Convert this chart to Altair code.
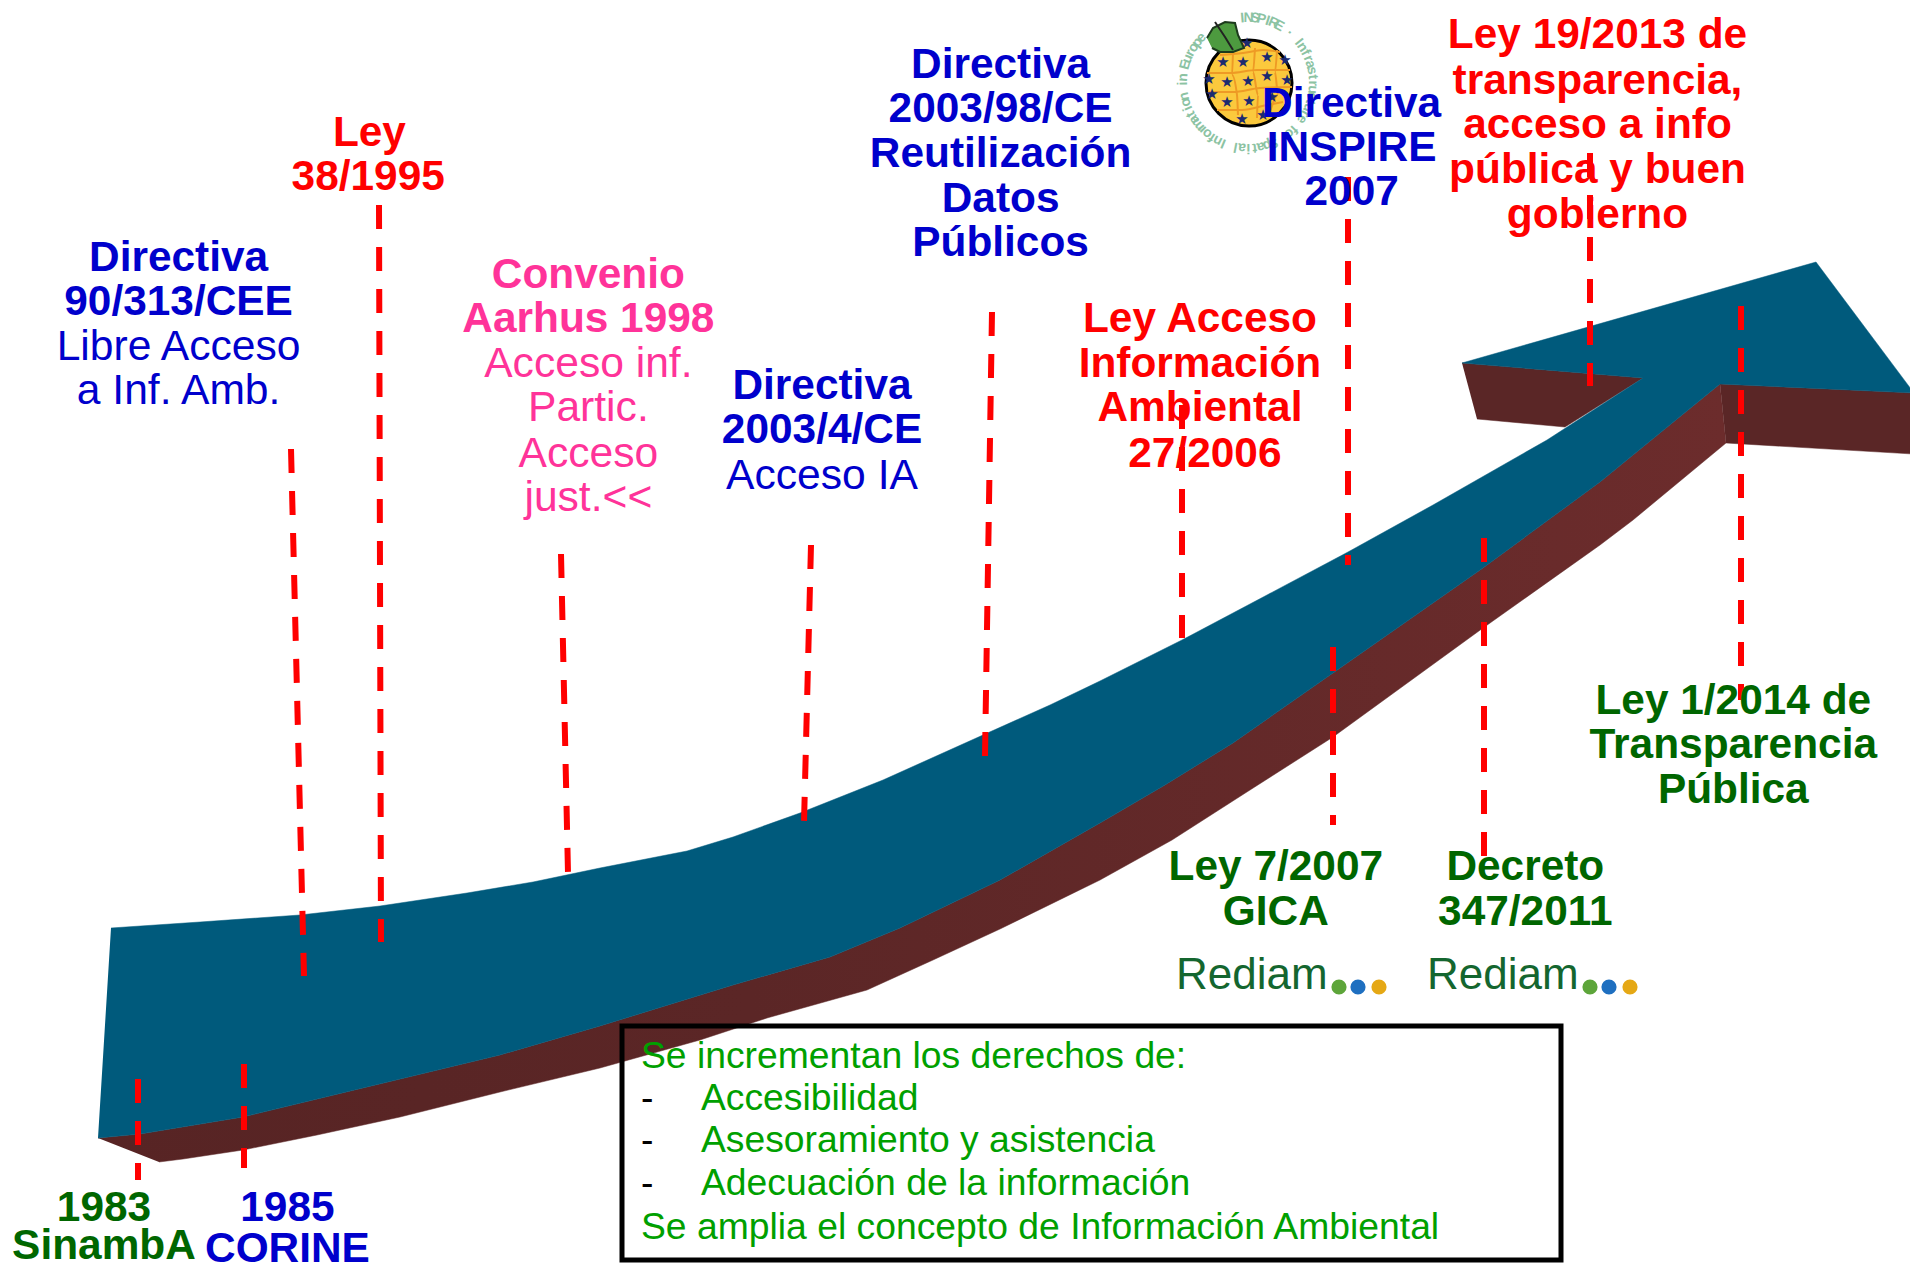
import math
import altair as alt
import pandas as pd

S = 1.2232
W, H = 1902, 1255
xs = alt.Scale(domain=[8, 8 + W], range=[0, W])
ys = alt.Scale(domain=[8, 8 + H], range=[0, H])
X = lambda f="x": alt.X(f"{f}:Q", scale=xs, axis=None)
Y = lambda f="y": alt.Y(f"{f}:Q", scale=ys, axis=None)

# ---- arrow outline (full-size pixels)
blue_top = [(111,928),(200,922),(300,915),(380,906),(467,893),(533,882),(600,868),(687,851),(733,837),(800,813),
            (883,780),(983,735),(1050,705),(1100,681),(1182,640),(1267,595),(1348,552),(1433,505),(1547,440),
            (1643,378),(1462,363),(1816,262),(1914,393),(1720,384)]
blue_low = [(1600,482),(1483,568),(1333,673),(1233,743),(1165,785),(1100,823),(1000,880),(900,928),(830,957),(733,985),
            (600,1026),(500,1055),(367,1087),(243,1117),(140,1134),(98,1138)]
maroon_low = [(1726,443),(1633,520),(1600,545),(1483,628),(1333,737),(1250,790),(1172,840),(1100,880),(1000,929),
              (933,960),(867,990),(767,1018),(700,1040),(600,1068),(500,1092),(400,1117),(317,1135),(243,1150),
              (183,1159),(159,1162)]
head_left = [(1462,363),(1643,378),(1565,427),(1477,419)]
head_right = [(1720,384),(1914,393),(1913,454),(1726,443)]
leaf = [(1207,38),(1213,28),(1225,22),(1235,23),(1238,35),(1244,48),(1233,52),(1220,52),(1212,48)]
leaf_stem = [(1215,22),(1225,37),(1233,50)]

def poly(points, colour, edge=None, width=0.5):
    df = pd.DataFrame(points, columns=["x", "y"])
    df["i"] = range(len(df))
    return alt.Chart(df).mark_line(fill=colour, stroke=edge or colour, strokeWidth=width).encode(
        x=X(), y=Y(), order="i:Q")

maroon_fill = alt.Gradient(gradient="linear", x1=0, y1=0, x2=1, y2=0,
                           stops=[alt.GradientStop(color="#572424", offset=0),
                                  alt.GradientStop(color="#5b2626", offset=0.4),
                                  alt.GradientStop(color="#6c2c2c", offset=1)])

# ---- dashed rules
rule_x1 = [291,379,561,811,992,1182,1348,1590,1741,1484,1333,244,138]
rule_y1 = [449,205,554,545,312,405,177,153,306,538,647,1064,1079]
rule_x2 = [304,381,568,804,985,1182,1348,1590,1741,1484,1333,244,138]
rule_y2 = [976,942,873,823,756,638,565,386,700,856,825,1168,1180]
rules = pd.DataFrame({"x": rule_x1, "y": rule_y1, "x2": rule_x2, "y2": rule_y2})

# ---- labels, in reading order
RED, BLUE, PINK, GREEN = "#ff0000", "#0000cc", "#ff3399", "#006600"
bold_text = ["Directiva","90/313/CEE","Ley","38/1995","Convenio","Aarhus 1998","Directiva","2003/4/CE",
             "Directiva","2003/98/CE","Reutilización","Datos","Públicos",
             "Ley Acceso","Información","Ambiental","27/2006",
             "Directiva","INSPIRE","2007",
             "Ley 19/2013 de","transparencia,","acceso a info","pública y buen","gobierno",
             "Ley 1/2014 de","Transparencia","Pública",
             "Ley 7/2007","GICA","Decreto","347/2011",
             "1983","SinambA","1985","CORINE"]
bold_x = [146,146,302,301,481,481,672,672,818,818,818,818,818,981,981,981,985,1105,1105,1105,
          1306,1306,1306,1306,1306,1417,1417,1417,1043,1043,1247,1247,85,85,235,235]
bold_y = [210,246,108,144,224,260,315,351,52,88,125,162,198,260,297,333,370,84,120,156,
          28,65,101,138,175,572,608,645,708,745,708,745,987,1018,987,1020]
bold_c = [BLUE]*2+[RED]*2+[PINK]*2+[BLUE]*2+[BLUE]*5+[RED]*4+[BLUE]*3+[RED]*5+[GREEN]*3+[GREEN]*4+[GREEN]*2+[BLUE]*2
reg_text = ["Libre Acceso","a Inf. Amb.","Acceso inf.","Partic.","Acceso","just.<<","Acceso IA"]
reg_x = [146,146,481,481,481,481,672]
reg_y = [283,319,297,333,370,406,388]
reg_c = [BLUE]*2+[PINK]*4+[BLUE]

box_text = ["Se incrementan los derechos de:","-","Accesibilidad","-","Asesoramiento y asistencia","-",
            "Adecuación de la información","Se amplia el concepto de Información Ambiental"]
box_x = [524,524,573,524,573,524,573,524]
box_y = [863,898,898,932,932,967,967,1003]
box_c = ["#00a000","#000000","#00a000","#000000","#00a000","#000000","#00a000","#00a000"]

def texts(t, x, y, c, size, bold=False, align="center", font="Liberation Sans", scale=S, nudge=1.0):
    df = pd.DataFrame({"t": t, "x": [v*scale for v in x], "y": [v*scale + nudge for v in y], "c": c})
    return alt.Chart(df).mark_text(font=font, fontSize=size, fontWeight="bold" if bold else "normal",
                                   align=align, baseline="middle").encode(
        x=X(), y=Y(), text="t:N", color=alt.Color("c:N", scale=None))

bold_layer = texts(bold_text, bold_x, bold_y, bold_c, 42.4, True)
reg_layer = texts(reg_text, reg_x, reg_y, reg_c, 42.6)
box_layer = texts(box_text, box_x, box_y, box_c, 37.3, align="left")

box = alt.Chart(pd.DataFrame({"x": [622], "x2": [1561], "y": [1026], "y2": [1260]})).mark_rect(
    fill="white", fillOpacity=0, stroke="black", strokeWidth=5).encode(x=X(), x2="x2:Q", y=Y(), y2="y2:Q")

# ---- Rediam logos
rediam = texts(["Rediam","Rediam"], [1176,1427], [976,976], ["#14662f"]*2, 44, align="left", scale=1, nudge=0)
dots = pd.DataFrame({"x":[1339,1358,1379,1590,1609,1630],"y":[987]*6,
                     "c":["#5da53a","#1e6fc0","#e5a815"]*2})
dot_layer = alt.Chart(dots).mark_point(filled=True, opacity=1, size=230).encode(
    x=X(), y=Y(), color=alt.Color("c:N", scale=None))

# ---- INSPIRE globe
globe = alt.Chart(pd.DataFrame({"x":[1249],"y":[83]})).mark_point(
    filled=True, fill="#fbc93d", stroke="black", strokeWidth=3, opacity=1, size=7396).encode(x=X(), y=Y())
grid_lines = {
    "h1": [(1220,55),(1243,53),(1263,50),(1280,52)],
    "h2": [(1207,73),(1230,73),(1257,70),(1290,70)],
    "h3": [(1208,92),(1233,92),(1260,88),(1292,87)],
    "h4": [(1217,110),(1242,110),(1267,105),(1283,102)],
    "v1": [(1233,52),(1232,75),(1237,95),(1238,115)],
    "v2": [(1255,48),(1253,72),(1258,95),(1257,118)],
    "v3": [(1277,50),(1275,72),(1278,95),(1270,112)],
}
g_df = pd.concat([pd.DataFrame(v, columns=["x","y"]).assign(k=k, i=range(len(v))) for k, v in grid_lines.items()])
grid = alt.Chart(g_df).mark_line(color="#ee9a25", strokeWidth=2, interpolate="monotone").encode(
    x=X(), y=Y(), detail="k:N", order="i:Q")
star_x = [1247,1223,1243,1267,1285,1227,1248,1267,1287,1209,1227,1249,1272,1212,1242,1263]
star_y = [43,62,62,57,60,82,81,76,80,79,102,101,97,94,119,115]
stars = texts(["★"]*len(star_x), star_x, star_y, ["#1c2a70"]*len(star_x), 15, font="DejaVu Sans", scale=1, nudge=0)
stem = pd.DataFrame(leaf_stem, columns=["x", "y"]).assign(i=range(len(leaf_stem)))
stem_layer = alt.Chart(stem).mark_line(color="#222222", strokeWidth=2).encode(x=X(), y=Y(), order="i:Q")
leaf_layer = poly(leaf, "#4d9a3f", edge="#1c3a1c", width=2)
ring_text = "INSPIRE · Infrastructure for Spatial Information in Europe"
ring_cx, ring_cy, ring_r = 1248, 83, 65
ring_rows = []
for n, ch in enumerate(ring_text):
    a = -5 + n * 5.6
    ring_rows.append({"t": ch, "x": ring_cx + ring_r*math.sin(math.radians(a)),
                      "y": ring_cy - ring_r*math.cos(math.radians(a)), "a": a % 360})
ring = alt.Chart(pd.DataFrame(ring_rows)).mark_text(fontSize=14, fontWeight="bold", font="Liberation Sans",
                                                     color="#8cc3a3", baseline="middle").encode(
    x=X(), y=Y(), text="t:N", angle=alt.Angle("a:Q", scale=None))

rule_layer = alt.Chart(rules).mark_rule(color="#ff0000", strokeWidth=6, strokeDash=[24, 18]).encode(
    x=X(), y=Y(), x2="x2:Q", y2="y2:Q")

maroon_df = pd.DataFrame(blue_low[::-1] + [(1720,384)] + maroon_low, columns=["x", "y"])
maroon_df["i"] = range(len(maroon_df))
maroon = alt.Chart(maroon_df).mark_line(fill=maroon_fill, stroke="#5f2828", strokeWidth=0.5).encode(
    x=X(), y=Y(), order="i:Q")

chart = alt.layer(
    poly(head_left, "#5a2626"), poly(head_right, "#5a2626"),
    maroon,
    poly(blue_top + blue_low, "#005a7c"),
    ring, globe, grid, stars, leaf_layer, stem_layer, rediam, dot_layer,
    rule_layer, box, box_layer, bold_layer, reg_layer,
).properties(width=W, height=H, padding=0, background="white",
             autosize=alt.AutoSizeParams(type="none")).configure_view(stroke=None)

chart.save("out.html", embed_options={"renderer": "svg", "actions": False})
